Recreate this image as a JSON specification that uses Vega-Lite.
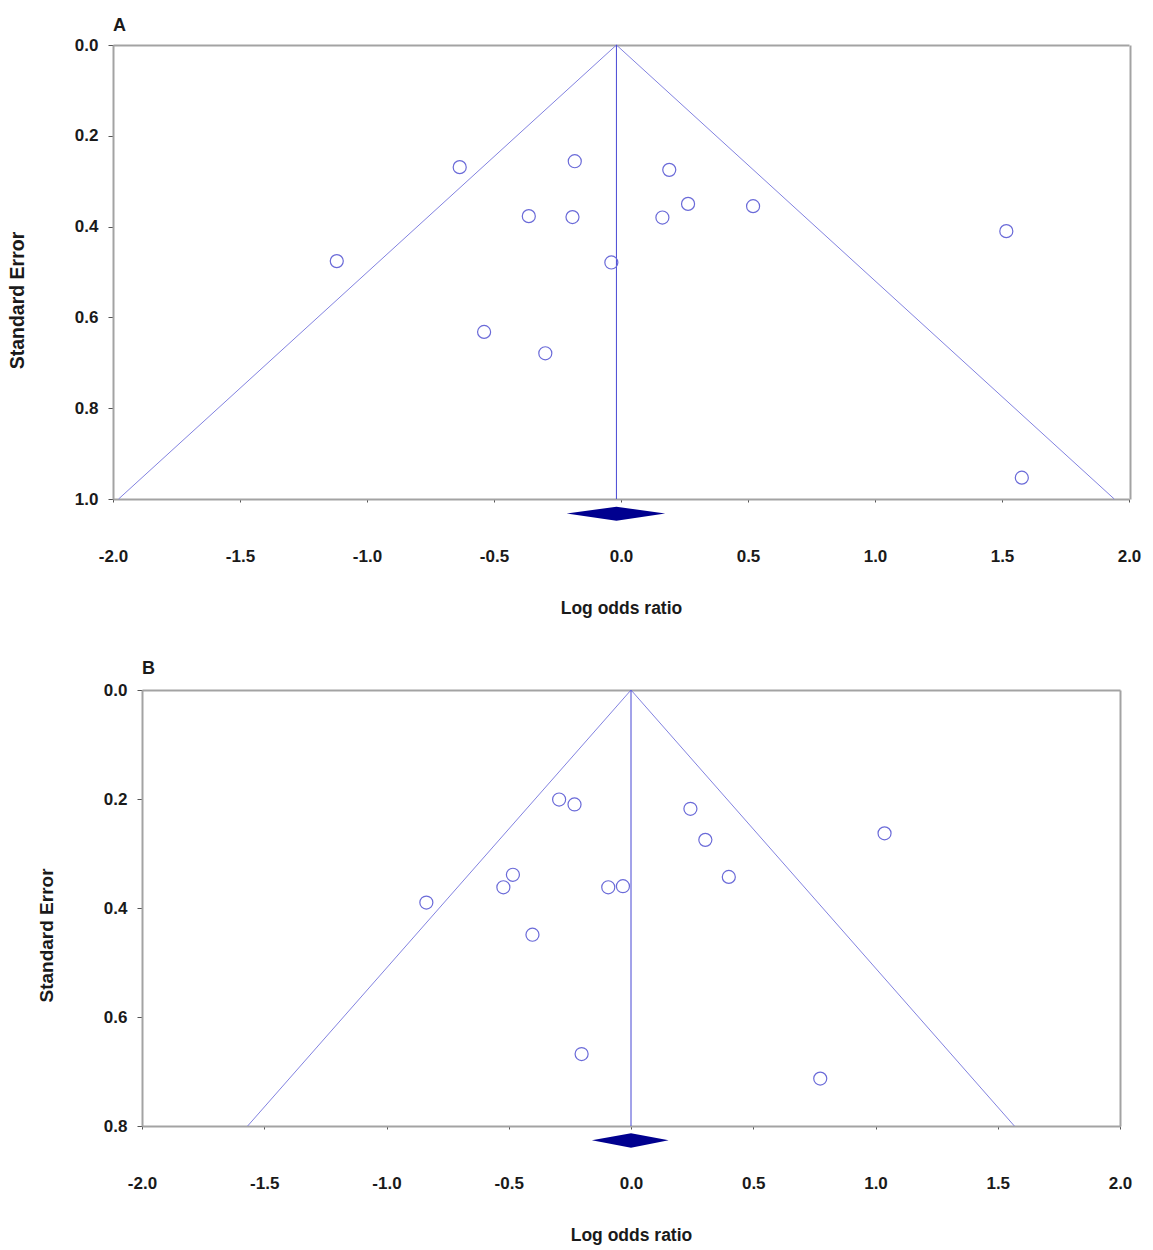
{
  "$schema": "https://vega.github.io/schema/vega-lite/v6.json",
  "background": "white",
  "padding": {"left": 7, "top": 17, "right": 5, "bottom": 5},
  "spacing": 43,
  "config": {
    "view": {"stroke": null},
    "axis": {"grid": false, "domainColor": "#a3a3a3", "domainWidth": 2, "tickColor": "#555555", "tickWidth": 1, "labelFont": "Liberation Sans", "labelFontWeight": "bold", "labelFontSize": 17, "labelColor": "#1a1a1a", "labelFlush": false, "titleFont": "Liberation Sans", "titleFontWeight": "bold", "titleColor": "#1a1a1a"},
    "title": {"font": "Liberation Sans", "fontWeight": "bold", "fontSize": 18, "color": "#1a1a1a", "anchor": "start", "frame": "group", "baseline": "alphabetic"}
  },
  "datasets": {
    "funnelA": [
      {"line": "left", "x": -0.018, "se": 0}, {"line": "left", "x": -1.978, "se": 1},
      {"line": "right", "x": -0.018, "se": 0}, {"line": "right", "x": 1.942, "se": 1},
      {"line": "center", "x": -0.018, "se": 0}, {"line": "center", "x": -0.018, "se": 1}
    ],
    "pointsA": [
      {"x": -0.635, "se": 0.269}, {"x": -0.182, "se": 0.256}, {"x": -0.363, "se": 0.377},
      {"x": -0.191, "se": 0.379}, {"x": -0.038, "se": 0.479}, {"x": 0.190, "se": 0.275},
      {"x": 0.264, "se": 0.350}, {"x": 0.163, "se": 0.380}, {"x": 0.520, "se": 0.355},
      {"x": 1.517, "se": 0.410}, {"x": 1.578, "se": 0.953}, {"x": -0.539, "se": 0.632},
      {"x": -0.298, "se": 0.679}, {"x": -1.119, "se": 0.476}
    ],
    "diamondA": [
      {"x": -0.214, "top": 1.032, "bot": 1.032},
      {"x": -0.018, "top": 1.017, "bot": 1.048},
      {"x": 0.174, "top": 1.032, "bot": 1.032}
    ],
    "funnelB": [
      {"line": "left", "x": 0, "se": 0}, {"line": "left", "x": -1.568, "se": 0.8},
      {"line": "right", "x": 0, "se": 0}, {"line": "right", "x": 1.568, "se": 0.8},
      {"line": "center", "x": 0, "se": 0}, {"line": "center", "x": 0, "se": 0.8}
    ],
    "pointsB": [
      {"x": -0.294, "se": 0.201}, {"x": -0.231, "se": 0.210}, {"x": 0.243, "se": 0.218},
      {"x": 0.304, "se": 0.275}, {"x": 0.400, "se": 0.343}, {"x": -0.483, "se": 0.339},
      {"x": -0.522, "se": 0.362}, {"x": -0.093, "se": 0.362}, {"x": -0.033, "se": 0.360},
      {"x": -0.837, "se": 0.390}, {"x": -0.403, "se": 0.449}, {"x": 1.037, "se": 0.263},
      {"x": -0.202, "se": 0.668}, {"x": 0.774, "se": 0.713}
    ],
    "diamondB": [
      {"x": -0.160, "top": 0.826, "bot": 0.826},
      {"x": 0.0, "top": 0.8135, "bot": 0.840},
      {"x": 0.154, "top": 0.826, "bot": 0.826}
    ]
  },
  "vconcat": [
    {
      "title": {"text": "A", "offset": 1},
      "width": 1017,
      "height": 454,
      "resolve": {"axis": {"x": "independent", "y": "independent"}},
      "layer": [
        {
          "data": {"name": "funnelA"},
          "mark": {"type": "line", "strokeWidth": 1},
          "encoding": {
            "x": {"field": "x", "type": "quantitative", "scale": {"domain": [-2, 2], "range": [0, 1016], "nice": false, "zero": false},
              "axis": {"orient": "bottom", "values": [-2, -1.5, -1, -0.5, 0, 0.5, 1, 1.5, 2], "format": ".1f", "labelExpr": "replace(datum.label, '\u2212', '-')", "tickSize": 3, "labelPadding": 46, "title": "Log odds ratio", "titleFontSize": 17.5, "titlePadding": 35}},
            "y": {"field": "se", "type": "quantitative", "scale": {"domain": [0, 1], "reverse": true, "nice": false, "zero": false},
              "axis": {"orient": "left", "values": [0, 0.2, 0.4, 0.6, 0.8, 1.0], "format": ".1f", "tickSize": 5, "labelPadding": 10, "title": "Standard Error", "titleFontSize": 19.5, "titlePadding": 47, "titleY": 255}},
            "detail": {"field": "line"},
            "color": {"field": "line", "type": "nominal", "scale": {"domain": ["left", "right", "center"], "range": ["#8282e0", "#8282e0", "#4747d4"]}, "legend": null}
          }
        },
        {
          "data": {"name": "pointsA"},
          "mark": {"type": "point", "shape": "circle", "filled": false, "size": 170, "strokeWidth": 1.2, "color": "#6a6ad8", "opacity": 1},
          "encoding": {
            "x": {"field": "x", "type": "quantitative", "scale": {"domain": [-2, 2], "range": [0, 1016], "nice": false, "zero": false},
              "axis": {"orient": "top", "labels": false, "ticks": false, "title": null}},
            "y": {"field": "se", "type": "quantitative", "scale": {"domain": [0, 1], "reverse": true, "nice": false, "zero": false},
              "axis": {"orient": "right", "labels": false, "ticks": false, "title": null}}
          }
        },
        {
          "data": {"name": "diamondA"},
          "mark": {"type": "area", "orient": "vertical", "color": "#00008f", "clip": false},
          "encoding": {
            "x": {"field": "x", "type": "quantitative", "scale": {"domain": [-2, 2], "range": [0, 1016], "nice": false, "zero": false}, "axis": null},
            "y": {"field": "top", "type": "quantitative", "scale": {"domain": [0, 1], "reverse": true, "nice": false, "zero": false}, "axis": null},
            "y2": {"field": "bot"}
          }
        }
      ]
    },
    {
      "title": {"text": "B", "offset": 3, "dx": 29},
      "width": 1007,
      "height": 436,
      "resolve": {"axis": {"x": "independent", "y": "independent"}},
      "layer": [
        {
          "data": {"name": "funnelB"},
          "mark": {"type": "line", "strokeWidth": 1},
          "encoding": {
            "x": {"field": "x", "type": "quantitative", "scale": {"domain": [-2, 2], "range": [29, 1007], "nice": false, "zero": false},
              "axis": {"orient": "bottom", "values": [-2, -1.5, -1, -0.5, 0, 0.5, 1, 1.5, 2], "format": ".1f", "labelExpr": "replace(datum.label, '\u2212', '-')", "tickSize": 3, "labelPadding": 46, "title": "Log odds ratio", "titleFontSize": 17.5, "titlePadding": 35}},
            "y": {"field": "se", "type": "quantitative", "scale": {"domain": [0, 0.8], "reverse": true, "nice": false, "zero": false},
              "axis": {"orient": "left", "offset": -29, "values": [0, 0.2, 0.4, 0.6, 0.8], "format": ".1f", "tickSize": 5, "labelPadding": 10, "title": "Standard Error", "titleFontSize": 19, "titlePadding": 47, "titleY": 245}},
            "detail": {"field": "line"},
            "color": {"field": "line", "type": "nominal", "scale": {"domain": ["left", "right", "center"], "range": ["#8282e0", "#8282e0", "#4747d4"]}, "legend": null}
          }
        },
        {
          "data": {"name": "pointsB"},
          "mark": {"type": "point", "shape": "circle", "filled": false, "size": 170, "strokeWidth": 1.2, "color": "#6a6ad8", "opacity": 1},
          "encoding": {
            "x": {"field": "x", "type": "quantitative", "scale": {"domain": [-2, 2], "range": [29, 1007], "nice": false, "zero": false},
              "axis": {"orient": "top", "labels": false, "ticks": false, "title": null}},
            "y": {"field": "se", "type": "quantitative", "scale": {"domain": [0, 0.8], "reverse": true, "nice": false, "zero": false},
              "axis": {"orient": "right", "labels": false, "ticks": false, "title": null}}
          }
        },
        {
          "data": {"name": "diamondB"},
          "mark": {"type": "area", "orient": "vertical", "color": "#00008f", "clip": false},
          "encoding": {
            "x": {"field": "x", "type": "quantitative", "scale": {"domain": [-2, 2], "range": [29, 1007], "nice": false, "zero": false}, "axis": null},
            "y": {"field": "top", "type": "quantitative", "scale": {"domain": [0, 0.8], "reverse": true, "nice": false, "zero": false}, "axis": null},
            "y2": {"field": "bot"}
          }
        }
      ]
    }
  ]
}
